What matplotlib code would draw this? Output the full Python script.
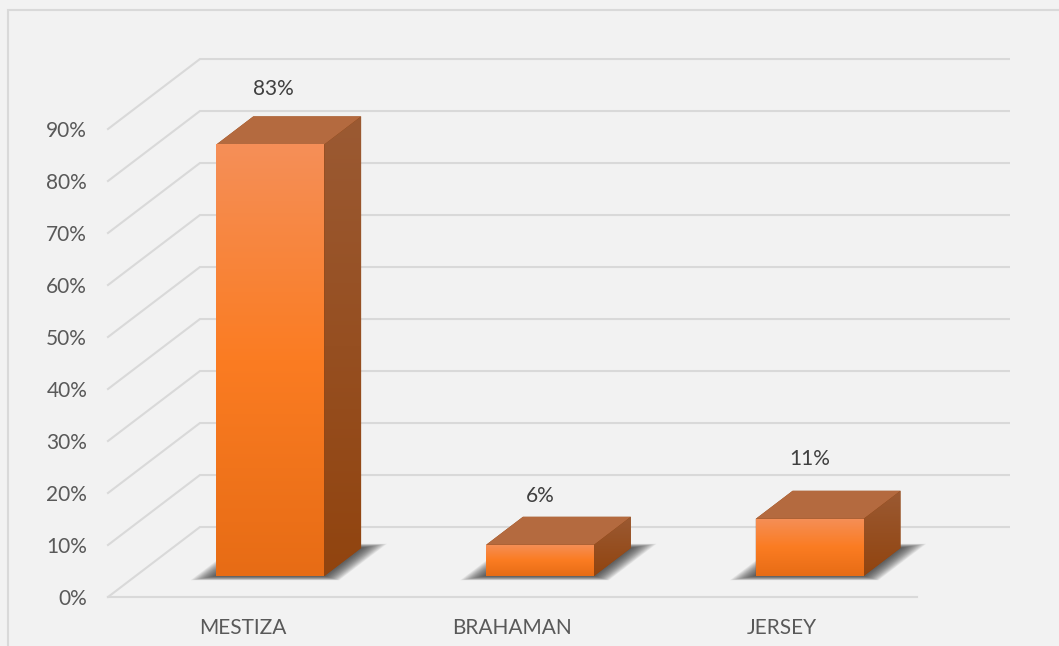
import matplotlib
matplotlib.use('Agg')
import matplotlib.pyplot as plt
import numpy as np
from matplotlib.colors import LinearSegmentedColormap
from matplotlib.lines import Line2D
from matplotlib.patches import Polygon

categories = ['MESTIZA', 'BRAHAMAN', 'JERSEY']
values = [83, 6, 11]
y_ticks = [0, 10, 20, 30, 40, 50, 60, 70, 80, 90]
# how far each value label floats above the bar top, in percent units
label_lift = [3.4, 2.1, 4.2]
# sideways nudge of each value label, in category units
label_shift = [0.01, 0.0, -0.003]

WIDTH, HEIGHT = 1059, 646
BG = '#F2F2F2'
GRID = '#D9D9D9'

# full depth of the floor, in axis units (categories / percent)
DEPTH_X = 0.341
DEPTH_Y = 13.46
# bars sit between these fractions of the floor depth
BAR_FRONT, BAR_BACK = 0.3, 0.7
BAR_W = 0.4

plt.rcParams['font.family'] = ['Lato', 'DejaVu Sans']

front_cm = LinearSegmentedColormap.from_list('front', ['#E76C15', '#FB7C22', '#F58F58'])
side_cm = LinearSegmentedColormap.from_list('side', ['#91440F', '#9B5A33'])
ramp = np.linspace(0, 1, 256).reshape(-1, 1)


def skew(x, y, depth):
    # move a point from the front plane back into the chart
    return x + depth * DEPTH_X, y + depth * DEPTH_Y


def gradient_face(ax, corners, cmap, zorder):
    pts = np.array(corners)
    ext = (pts[:, 0].min(), pts[:, 0].max(), pts[:, 1].min(), pts[:, 1].max())
    im = ax.imshow(ramp, cmap=cmap, extent=ext, origin='lower', aspect='auto',
                   vmin=0, vmax=1, zorder=zorder)
    im.set_clip_box(fig.bbox)
    im.set_clip_path(Polygon(pts, closed=True, transform=ax.transData))


def shadow(ax, x0, x1, zorder):
    # soft shadow on the floor, stacked translucent layers
    layers = 18
    for k in range(layers):
        f = 1 - k / layers
        extra = 0.075 * f
        grow = 0.06 * f
        pts = [skew(x0 - extra, 0, BAR_FRONT - grow), skew(x1 + extra, 0, BAR_FRONT - grow),
               skew(x1 + extra, 0, BAR_BACK + grow), skew(x0 - extra, 0, BAR_BACK + grow)]
        ax.add_patch(Polygon(pts, closed=True, facecolor='#303030', edgecolor='none',
                             alpha=0.07, clip_on=False, zorder=zorder))


def draw_bar(ax, i, val):
    x0, x1 = i - BAR_W / 2, i + BAR_W / 2
    shadow(ax, x0, x1, 2)

    fl, fb = skew(x0, 0, BAR_FRONT), skew(x1, 0, BAR_FRONT)
    tl, tr = skew(x0, val, BAR_FRONT), skew(x1, val, BAR_FRONT)
    bl, br = skew(x0, val, BAR_BACK), skew(x1, val, BAR_BACK)
    back_foot = skew(x1, 0, BAR_BACK)

    # solid silhouette underneath so no shadow shows through the face seams
    ax.add_patch(Polygon([fl, fb, back_foot, br, bl, tl], closed=True, facecolor='#91440F',
                         edgecolor='none', clip_on=False, zorder=2.5))
    ax.add_patch(Polygon([tl, tr, br, bl], closed=True, facecolor='#B46A3F',
                         edgecolor='none', clip_on=False, zorder=3))
    gradient_face(ax, [fb, back_foot, br, tr], side_cm, 3)
    gradient_face(ax, [fl, fb, tr, tl], front_cm, 4)


fig = plt.figure(figsize=(WIDTH / 100, HEIGHT / 100), dpi=100, facecolor=BG)
ax = fig.add_axes([108 / WIDTH, (HEIGHT - 597) / HEIGHT, 809 / WIDTH, 468 / HEIGHT])
ax.set_facecolor(BG)
for s in ax.spines.values():
    s.set_visible(False)

# floor front edge, side wall diagonals and back wall lines
ax.plot([-0.5, 2.5], [0, 0], color=GRID, lw=1.5, clip_on=False, zorder=1)
for t in y_ticks:
    bx, by = skew(-0.5, t, 1)
    ex, _ = skew(2.5, t, 1)
    ax.plot([-0.5, bx, ex], [t, by, by], color=GRID, lw=1.5, clip_on=False,
            solid_joinstyle='miter', zorder=1)

for i, v in enumerate(values):
    draw_bar(ax, i, v)
    lx, ly = skew(i, v, BAR_BACK)
    ax.text(lx - 0.135 + label_shift[i], ly + label_lift[i], '%d%%' % v, ha='center', va='bottom',
            color='#404040', fontsize=15, zorder=6)

ax.set_xlim(-0.5, 2.5)
ax.set_ylim(0, 90)
ax.set_xticks(range(len(categories)))
ax.set_xticklabels(categories)
ax.set_yticks(y_ticks)
ax.set_yticklabels(['%d%%' % t for t in y_ticks])
ax.tick_params(axis='both', length=0, labelsize=15, labelcolor='#595959')
ax.tick_params(axis='x', pad=15)
ax.tick_params(axis='y', pad=15)

# chart frame, only the top and left edges fall inside the canvas
fig.add_artist(Line2D([7.5 / WIDTH, 7.5 / WIDTH, 1], [0, 1 - 9.5 / HEIGHT, 1 - 9.5 / HEIGHT],
                      color=GRID, lw=1.5, solid_joinstyle='miter'))

fig.savefig('out.png', dpi=100, facecolor=BG)
